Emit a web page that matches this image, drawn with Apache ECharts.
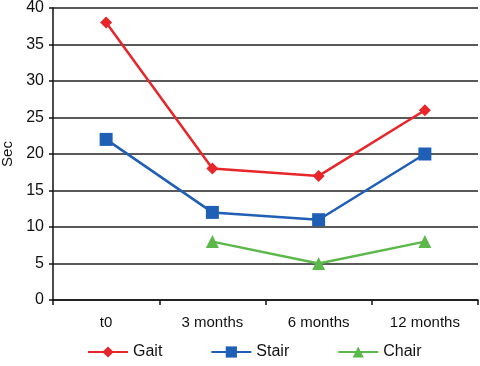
<!DOCTYPE html>
<html>
<head>
<meta charset="utf-8">
<script src="https://cdn.jsdelivr.net/npm/echarts@6/dist/echarts.min.js"></script>
<style>
html,body{margin:0;padding:0;background:#fff}
#chart{width:480px;height:366px}
</style>
</head>
<body>
<div id="chart"></div>
<script>
const categories = ['t0', '3 months', '6 months', '12 months'];
const gait = [38, 18, 17, 26];
const stair = [22, 12, 11, 20];
const chair = [null, 8, 5, 8];
const yTicks = [0, 5, 10, 15, 20, 25, 30, 35, 40];

const font = 'Liberation Sans, Arial, sans-serif';
const chart = echarts.init(document.getElementById('chart'));
chart.setOption({
  animation: false,
  backgroundColor: '#fff',
  textStyle: {fontFamily: font},
  grid: {left: 53, right: 2, top: 8, bottom: 66, outerBoundsMode: 'none', containLabel: false},
  legend: {
    bottom: 1,
    left: 82,
    itemGap: 48,
    itemWidth: 40,
    itemHeight: 14,
    textStyle: {fontSize: 16, color: '#111', fontFamily: font},
    data: ['Gait', 'Stair', 'Chair']
  },
  xAxis: {
    type: 'category',
    data: categories,
    boundaryGap: true,
    axisLine: {lineStyle: {color: '#111', width: 1.5}},
    axisTick: {show: true, length: 5, lineStyle: {color: '#111', width: 1.5}},
    axisLabel: {fontSize: 15, color: '#111', margin: 15}
  },
  yAxis: {
    type: 'value',
    min: yTicks[0],
    max: yTicks[yTicks.length - 1],
    interval: 5,
    name: 'Sec',
    nameLocation: 'middle',
    nameGap: 35,
    nameRotate: 90,
    nameTextStyle: {fontSize: 15, color: '#111'},
    axisLine: {show: true, lineStyle: {color: '#111', width: 1.5}},
    axisTick: {show: true, length: 4, lineStyle: {color: '#111', width: 1.5}},
    axisLabel: {fontSize: 16, color: '#111', margin: 9},
    splitLine: {lineStyle: {color: '#222', width: 1.5}}
  },
  series: [
    {
      name: 'Gait', type: 'line', data: gait,
      symbol: 'diamond', symbolSize: 12,
      lineStyle: {color: '#e8262a', width: 2.5},
      itemStyle: {color: '#e8262a'}
    },
    {
      name: 'Stair', type: 'line', data: stair,
      symbol: 'rect', symbolSize: 13,
      lineStyle: {color: '#1f5fb5', width: 2.5},
      itemStyle: {color: '#1f5fb5'}
    },
    {
      name: 'Chair', type: 'line', data: chair,
      symbol: 'triangle', symbolSize: 13,
      lineStyle: {color: '#5cb84a', width: 2.5},
      itemStyle: {color: '#5cb84a'}
    }
  ]
});
</script>
</body>
</html>
